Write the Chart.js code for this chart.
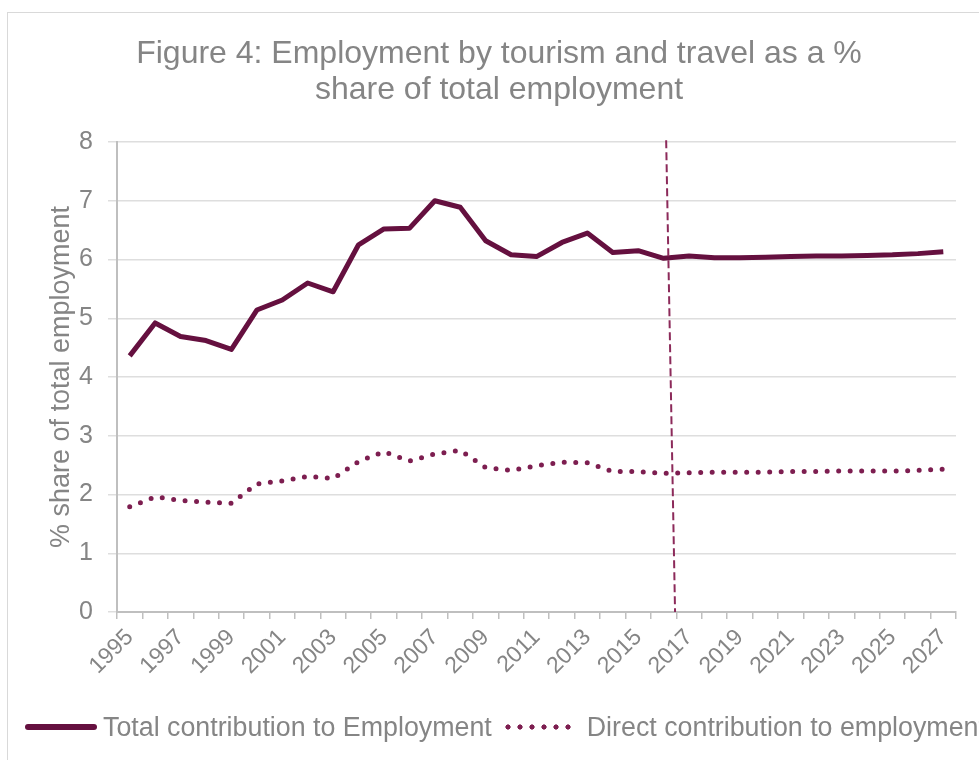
<!DOCTYPE html>
<html>
<head>
<meta charset="utf-8">
<title>Figure 4</title>
<script src="https://cdn.jsdelivr.net/npm/chart.js@4.4.1/dist/chart.umd.min.js"></script>
<style>
  body { margin: 0; background: #fff; }
  #wrap { position: relative; width: 979px; height: 760px; overflow: hidden; }
  #frame { position: absolute; left: 7px; top: 12px; width: 1000px; height: 800px;
           border-left: 1px solid #d9d9d9; border-top: 1px solid #d9d9d9; }
  #box { position: absolute; left: 0; top: 0; width: 979px; height: 760px; }
  #leyenda { position: absolute; left: 25px; top: 712px; white-space: nowrap;
             font: 26.8px "Liberation Sans", Arial, sans-serif; color: #858585; }
  #leyenda span.item { display: inline-block; margin-right: 10px; }
  #leyenda span.muestra { display: inline-block; width: 72px; height: 6px; vertical-align: middle; margin-right: 6px; position: relative; top: -2px; }
  #leyenda span.item + span.item span.muestra { margin-right: 13px; }
</style>
</head>
<body>
<div id="wrap">
  <div id="frame"></div>
  <div id="box"><canvas id="grafico"></canvas></div>
  <div id="leyenda"></div>
</div>
<script>
const years = ['1995','1996','1997','1998','1999','2000','2001','2002','2003','2004','2005',
  '2006','2007','2008','2009','2010','2011','2012','2013','2014','2015','2016','2017',
  '2018','2019','2020','2021','2022','2023','2024','2025','2026','2027']
const totalContribution = [4.36, 4.92, 4.69, 4.62, 4.47, 5.14, 5.31, 5.60, 5.45, 6.25, 6.52,
  6.53, 7.00, 6.89, 6.32, 6.08, 6.05, 6.29, 6.45, 6.12, 6.15, 6.02, 6.06,
  6.03, 6.03, 6.04, 6.05, 6.06, 6.06, 6.07, 6.08, 6.10, 6.13]
const directContribution = [1.79, 1.96, 1.90, 1.87, 1.85, 2.18, 2.23, 2.31, 2.27, 2.56, 2.73,
  2.57, 2.69, 2.75, 2.46, 2.41, 2.49, 2.55, 2.54, 2.39, 2.39, 2.36, 2.37,
  2.38, 2.38, 2.38, 2.39, 2.39, 2.40, 2.40, 2.40, 2.41, 2.43]
const yTicks = [0, 1, 2, 3, 4, 5, 6, 7, 8]
// forecast marker, in data units (category index, % value): top end, bottom end
const forecastTop = [21.1, 8.03]
const forecastBottom = [21.45, 0]

const fuente = '"Liberation Sans", Arial, sans-serif'
const gris = '#858585'
const colorTotal = '#65103f'
const colorDirect = '#7d1e50'

const lineaPronostico = {
  id: 'lineaPronostico',
  afterDatasetsDraw(chart) {
    const x = chart.scales.x
    const y = chart.scales.y
    const ctx = chart.ctx
    ctx.save()
    ctx.strokeStyle = '#8c2a5a'
    ctx.lineWidth = 2
    ctx.setLineDash([8, 4])
    ctx.beginPath()
    ctx.moveTo(x.getPixelForValue(forecastTop[0]), y.getPixelForValue(forecastTop[1]))
    ctx.lineTo(x.getPixelForValue(forecastBottom[0]), y.getPixelForValue(forecastBottom[1]))
    ctx.stroke()
    ctx.restore()
  }
}

const data = {
  labels: years,
  datasets: [{
    label: 'Total contribution to Employment',
    data: totalContribution,
    borderColor: colorTotal,
    backgroundColor: colorTotal,
    borderWidth: 5,
    pointRadius: 0,
    tension: 0,
    borderJoinStyle: 'round'
  }, {
    label: 'Direct contribution to employment',
    data: directContribution,
    borderColor: colorDirect,
    backgroundColor: colorDirect,
    borderWidth: 5,
    borderDash: [0, 11.5],
    borderCapStyle: 'round',
    pointRadius: 0,
    tension: 0
  }]
}

const config = {
  type: 'line',
  data,
  plugins: [lineaPronostico],
  options: {
    responsive: true,
    maintainAspectRatio: false,
    animation: false,
    layout: { padding: { left: 42, right: 23, top: 20, bottom: 70 } },
    plugins: {
      legend: { display: false },
      tooltip: { enabled: false },
      title: {
        display: true,
        text: ['Figure 4: Employment by tourism and travel as a %', 'share of total employment'],
        color: gris,
        font: { family: fuente, size: 32, weight: 'normal', lineHeight: '36px' },
        padding: { top: 16, bottom: 34 }
      }
    },
    scales: {
      x: {
        offset: true,
        afterFit(scale) { scale.height = 78 },
        grid: { offset: true, drawOnChartArea: false, drawTicks: true, tickLength: 7, color: '#bfbfbf', lineWidth: 1.5 },
        border: { color: '#bfbfbf', width: 2 },
        ticks: {
          autoSkip: false,
          maxRotation: 45,
          minRotation: 45,
          padding: 5,
          color: gris,
          font: { family: fuente, size: 23 },
          callback: (v, i) => (i % 2 === 0 ? years[i] : '')
        }
      },
      y: {
        min: yTicks[0],
        max: yTicks[yTicks.length - 1],
        afterFit(scale) { scale.width = 75 },
        afterBuildTicks(scale) { scale.ticks = yTicks.map(v => ({ value: v })) },
        grid: { color: '#dedede', lineWidth: 1.5, tickLength: 9 },
        border: { color: '#bfbfbf', width: 2 },
        ticks: { color: gris, padding: 15, font: { family: fuente, size: 25 } },
        title: {
          display: true,
          text: '% share of total employment',
          color: gris,
          padding: { top: 3, bottom: 0 },
          font: { family: fuente, size: 27 }
        }
      }
    }
  }
}

const chart = document.getElementById('grafico')
const myChart = new Chart(chart, config)

// legend as html, so it can run off the right edge like the original
const leyenda = document.getElementById('leyenda')
data.datasets.forEach((ds, i) => {
  const item = document.createElement('span')
  item.className = 'item'
  const muestra = document.createElement('span')
  muestra.className = 'muestra'
  if (i === 0) {
    muestra.style.background = ds.borderColor
    muestra.style.borderRadius = '3px'
  } else {
    muestra.style.backgroundImage = 'radial-gradient(circle, ' + ds.borderColor + ' 2.3px, transparent 2.9px)'
    muestra.style.backgroundSize = '12px 6px'
    muestra.style.backgroundRepeat = 'repeat-x'
  }
  item.appendChild(muestra)
  item.appendChild(document.createTextNode(ds.label))
  leyenda.appendChild(item)
})
</script>
</body>
</html>
